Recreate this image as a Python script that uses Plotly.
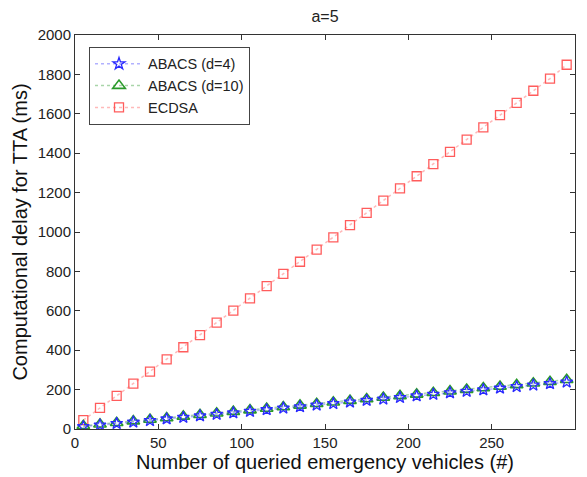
import plotly.graph_objects as go

vehicles = [5, 15, 25, 35, 45, 55, 65, 75, 85, 95, 105, 115, 125, 135, 145,
            155, 165, 175, 185, 195, 205, 215, 225, 235, 245, 255, 265, 275, 285, 295]
abacs_d4 = [12, 20, 28, 35, 43, 51, 59, 67, 74, 82, 90, 98, 106, 113, 121,
            129, 137, 145, 152, 160, 168, 176, 184, 191, 199, 207, 215, 223, 230, 238]
abacs_d10 = [16, 24, 32, 40, 48, 56, 64, 72, 80, 88, 96, 104, 112, 120, 128,
             136, 144, 152, 160, 168, 176, 184, 192, 200, 208, 216, 224, 232, 240, 250]
ecdsa = [45, 107, 168, 230, 291, 353, 415, 477, 540, 601, 663, 725, 787, 849, 911,
         973, 1035, 1097, 1159, 1221, 1283, 1345, 1407, 1469, 1531, 1593, 1655, 1717, 1779, 1849]

x_ticks = [0, 50, 100, 150, 200, 250, 300]
y_ticks = [0, 200, 400, 600, 800, 1000, 1200, 1400, 1600, 1800, 2000]

FONT = "Liberation Sans, Arial, Helvetica, sans-serif"

fig = go.Figure()
fig.add_trace(go.Scatter(
    x=vehicles, y=ecdsa, name="ECDSA", mode="lines+markers",
    line=dict(color="rgba(255,80,80,0.4)", dash="dot", width=1.5),
    marker=dict(symbol="square-open", size=9, color="#ff5c5c", line=dict(width=1.3)),
))
fig.add_trace(go.Scatter(
    x=vehicles, y=abacs_d10, name="ABACS (d=10)", mode="lines+markers",
    line=dict(color="rgba(40,150,40,0.4)", dash="dot", width=1.5),
    marker=dict(symbol="triangle-up-open", size=11, color="#2a9a2a", line=dict(width=1.6)),
))
fig.add_trace(go.Scatter(
    x=vehicles, y=abacs_d4, name="ABACS (d=4)", mode="lines+markers",
    line=dict(color="rgba(60,60,255,0.4)", dash="dot", width=1.5),
    marker=dict(symbol="star-open", size=9, color="#2a2aff", line=dict(width=1.3)),
))

axis_common = dict(
    showgrid=False, zeroline=False, showline=True, linecolor="#333333", linewidth=1,
    mirror="allticks", ticks="inside", ticklen=5, tickcolor="#333333",
    tickfont=dict(family=FONT, size=15, color="#222222"),
)

fig.update_layout(
    width=579, height=469,
    margin=dict(l=67, r=12, t=27, b=48, autoexpand=False),
    paper_bgcolor="white", plot_bgcolor="white",
    title=dict(text="a=5", x=0.5, xanchor="center", xref="paper", y=0.994, yanchor="top",
               pad=dict(t=0, b=0),
               font=dict(family=FONT, size=16, color="#222222")),
    xaxis=dict(range=[0, 300], tickvals=x_ticks, automargin=False,
               title=dict(text="Number of queried emergency vehicles (#)", standoff=0,
                          font=dict(family=FONT, size=20, color="#111111")),
               **axis_common),
    yaxis=dict(range=[0, 2000], tickvals=y_ticks, automargin=False,
               title=dict(text="Computational delay for TTA (ms)", standoff=4,
                          font=dict(family=FONT, size=20, color="#111111")),
               **axis_common),
    legend=dict(x=0.028, y=0.97, xanchor="left", yanchor="top", traceorder="reversed",
                bgcolor="white", bordercolor="#444444", borderwidth=1,
                font=dict(family=FONT, size=14.5, color="#222222"),
                itemwidth=48, tracegroupgap=0),
    showlegend=True,
)

fig.write_html("out.html")
